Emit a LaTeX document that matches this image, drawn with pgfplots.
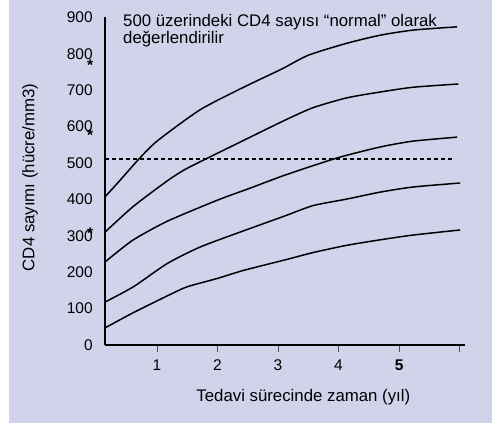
\documentclass[border=0pt]{standalone}
\usepackage{pgfplots}
\pgfplotsset{compat=1.18}
\usepackage{fontspec}
\setmainfont{Liberation Sans}
\definecolor{bg}{RGB}{209,211,235}
\begin{document}
\fontsize{15.5bp}{18bp}\selectfont
\begin{tikzpicture}[x=1bp,y=1bp]
\useasboundingbox (0,0) rectangle (498,425);
\fill[bg] (9,2) rectangle (492,425);
\begin{axis}[
  at={(105bp,80bp)}, anchor=south west,
  scale only axis, width=360bp, height=328bp,
  xmin=0.14, xmax=6.09, ymin=0, ymax=901,
  axis x line=bottom, axis y line=left,
  axis line style={-, line width=1.2bp, black},
  xtick={1,2,3,4,5,6}, xticklabels={1,2,3,4,\textbf{5},{}},
  ytick={0,100,...,900},
  tick align=outside,
  major tick length=7bp,
  x tick style={line width=1bp, black!70},
  y tick style={draw=none},
  /pgf/number format/assume math mode=true,
  xticklabel style={anchor=base, yshift=-18bp},
  yticklabel style={anchor=east},
  xlabel={Tedavi sürecinde zaman (yıl)},
  ylabel={CD4 sayımı (hücre/mm3)},
  label style={font=\fontsize{16.8bp}{19bp}\selectfont},
  xlabel style={at={(axis description cs:0.551,-0.171)}, anchor=base},
  ylabel style={at={(axis description cs:-0.196,0.511)}, anchor=base},
  clip=false,
]
\addplot[black, line width=1.5bp, smooth, tension=0.4] coordinates {
 (0.14,407)(0.36,447)(0.69,509)(1.0,560)(1.71,646)(2.43,708)(3.06,758)(3.5,796)(4.14,829)(4.69,851)(5.23,865)(5.96,874)};
\addplot[black, line width=1.5bp, smooth, tension=0.4] coordinates {
 (0.14,310)(0.61,381)(1.17,451)(1.46,482)(1.83,513)(2.54,571)(3.12,618)(3.58,652)(4.14,679)(4.69,695)(5.23,708)(5.98,717)};
\addplot[black, line width=1.5bp, smooth, tension=0.4] coordinates {
 (0.14,228)(0.60,288)(1.17,340)(2.0,398)(2.54,431)(3.12,467)(3.98,514)(4.69,544)(5.23,560)(5.96,571)};
\addplot[black, line width=1.5bp, smooth, tension=0.4] coordinates {
 (0.14,118)(0.61,160)(1.17,224)(1.71,269)(2.37,310)(3.12,355)(3.58,383)(4.14,401)(4.69,420)(5.23,434)(6.01,445)};
\addplot[black, line width=1.5bp, smooth, tension=0.4] coordinates {
 (0.14,47)(0.61,89)(1.17,135)(1.50,160)(2.0,183)(2.43,205)(3.12,234)(3.58,254)(4.14,274)(4.69,289)(5.23,302)(6.01,316)};
\addplot[black, line width=1.3bp, dash pattern=on 4bp off 3bp] coordinates {(0.14,511)(5.89,511)};
\node[anchor=base west, inner sep=0, font=\fontsize{16.8bp}{19bp}\selectfont] at (rel axis cs:0.05,0.970) {500 üzerindeki CD4 sayısı “normal” olarak};
\node[anchor=base west, inner sep=0, font=\fontsize{16.8bp}{19bp}\selectfont] at (rel axis cs:0.05,0.919) {değerlendirilir};
\node[font=\bfseries, inner sep=0] at (axis cs:-0.106,769) {*};
\node[font=\bfseries, inner sep=0] at (axis cs:-0.106,577) {*};
\node[font=\bfseries, inner sep=0] at (axis cs:-0.106,308) {*};
\end{axis}
\end{tikzpicture}
\end{document}
